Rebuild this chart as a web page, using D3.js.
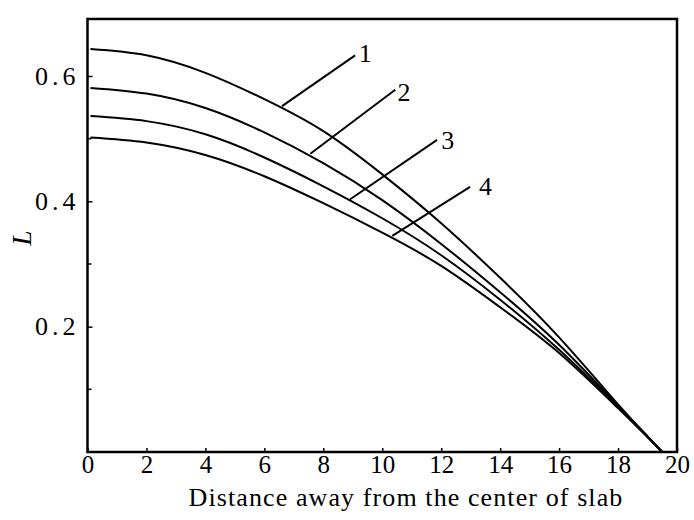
<!DOCTYPE html>
<html>
<head>
<meta charset="utf-8">
<script src="https://cdn.jsdelivr.net/npm/d3@7"></script>
<style>
  body { margin: 0; background: #fff; }
  svg text { font-family: "Liberation Serif", "DejaVu Serif", serif; fill: #000; }
</style>
</head>
<body>
<div id="plot"></div>
<script>
// Values
const xs = [0.1, 2, 4, 6, 8, 10, 12, 14, 16, 18, 19, 19.5];
const curve1 = [0.643, 0.633, 0.605, 0.563, 0.512, 0.443, 0.365, 0.278, 0.183, 0.076, 0.025, 0];
const curve2 = [0.581, 0.572, 0.549, 0.510, 0.461, 0.402, 0.332, 0.255, 0.171, 0.074, 0.025, 0];
const curve3 = [0.536, 0.528, 0.507, 0.470, 0.424, 0.373, 0.314, 0.243, 0.163, 0.072, 0.024, 0];
const curve4 = [0.502, 0.494, 0.474, 0.440, 0.397, 0.350, 0.297, 0.231, 0.158, 0.070, 0.024, 0];
const curveNames = ["1", "2", "3", "4"];

const xTicks = [0, 2, 4, 6, 8, 10, 12, 14, 16, 18, 20];
const yTicks = [0.2, 0.4, 0.6];
const yMinorTicks = [0.1, 0.3, 0.5];

// leader lines: start on the curve, end next to the number
const leaderStart = [[6.6, 0.552], [7.56, 0.476], [8.9, 0.403], [10.34, 0.345]];
const leaderEnd = [[9.08, 0.633], [10.44, 0.578], [11.86, 0.498], [12.98, 0.423]];
const labelPos = [[9.42, 0.637], [10.74, 0.574], [12.22, 0.498], [13.5, 0.425]];

const width = 694, height = 520;

const svg = d3.select("#plot")
    .append("svg")
    .attr("width", width)
    .attr("height", height);

const x = d3.scaleLinear().domain([0, 20]).range([87.5, 677]);
const y = d3.scaleLinear().domain([0, 0.6]).range([452, 76]);
const yTop = 0.691;

// frame
svg.append("rect")
    .attr("x", x(0))
    .attr("y", y(yTop))
    .attr("width", x(20) - x(0))
    .attr("height", y(0) - y(yTop))
    .attr("fill", "none")
    .attr("stroke", "#000")
    .attr("stroke-width", 2.5);

// x axis ticks (inward) and labels
svg.append("g")
    .attr("transform", `translate(0,${y(0)})`)
    .call(d3.axisBottom(x).tickValues(xTicks).tickSize(-4).tickPadding(6).tickFormat(d3.format("d")))
    .call(g => g.select(".domain").remove())
    .call(g => g.selectAll(".tick line").attr("stroke", "#000").attr("stroke-width", 1.5))
    .call(g => g.selectAll(".tick text")
        .attr("font-family", "Liberation Serif")
        .attr("font-size", "25px")
        .attr("dy", "0.6em"));

// y axis ticks (inward) and labels
svg.append("g")
    .attr("transform", `translate(${x(0)},0)`)
    .call(d3.axisLeft(y).tickValues(yTicks).tickSize(-5).tickPadding(8).tickFormat(d3.format(".1f")))
    .call(g => g.select(".domain").remove())
    .call(g => g.selectAll(".tick line").attr("stroke", "#000").attr("stroke-width", 1.5))
    .call(g => g.selectAll(".tick text")
        .attr("font-family", "Liberation Serif")
        .attr("font-size", "26px")
        .attr("letter-spacing", "4px"));

svg.append("g")
    .selectAll("line")
    .data(yMinorTicks)
    .join("line")
    .attr("x1", x(0))
    .attr("x2", x(0) + 4)
    .attr("y1", d => y(d))
    .attr("y2", d => y(d))
    .attr("stroke", "#000")
    .attr("stroke-width", 1.5);

// curves
const series = [curve1, curve2, curve3, curve4];
const line = d3.line()
    .x(d => x(d[0]))
    .y(d => y(d[1]))
    .curve(d3.curveNatural);

svg.append("g")
    .selectAll("path")
    .data(series)
    .join("path")
    .attr("d", vals => line(xs.map((v, i) => [v, vals[i]])))
    .attr("fill", "none")
    .attr("stroke", "#000")
    .attr("stroke-width", 2);

// leaders and numbers
svg.append("g")
    .selectAll("line")
    .data(curveNames)
    .join("line")
    .attr("x1", (d, i) => x(leaderStart[i][0]))
    .attr("y1", (d, i) => y(leaderStart[i][1]))
    .attr("x2", (d, i) => x(leaderEnd[i][0]))
    .attr("y2", (d, i) => y(leaderEnd[i][1]))
    .attr("stroke", "#000")
    .attr("stroke-width", 2);

svg.append("g")
    .selectAll("text")
    .data(curveNames)
    .join("text")
    .attr("x", (d, i) => x(labelPos[i][0]))
    .attr("y", (d, i) => y(labelPos[i][1]))
    .attr("text-anchor", "middle")
    .attr("dy", "0.35em")
    .attr("font-size", "26px")
    .text(d => d);

// axis titles
svg.append("text")
    .attr("x", 406)
    .attr("y", 506)
    .attr("text-anchor", "middle")
    .attr("font-size", "26px")
    .attr("letter-spacing", "1.1px")
    .text("Distance away from the center of slab");

svg.append("text")
    .attr("transform", `translate(31,238) rotate(-90)`)
    .attr("text-anchor", "middle")
    .attr("font-size", "27px")
    .attr("font-style", "italic")
    .text("L");
</script>
</body>
</html>
